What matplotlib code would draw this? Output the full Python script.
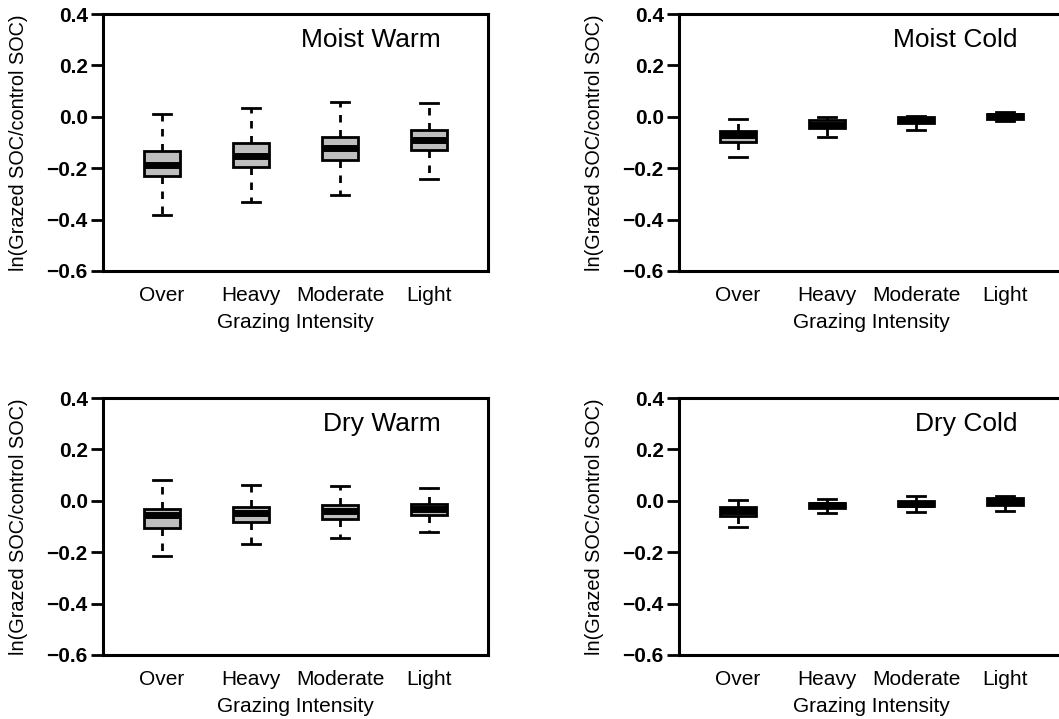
import matplotlib
matplotlib.use("Agg")
import matplotlib.pyplot as plt

plt.rcParams['font.family'] = ['Liberation Sans', 'DejaVu Sans']

intensity = ['Over', 'Heavy', 'Moderate', 'Light']
panels = ['Moist Warm', 'Moist Cold', 'Dry Warm', 'Dry Cold']

# per panel: lower whisker, q1, median, q3, upper whisker (one value per intensity)
moist_warm_lo = [-0.384, -0.332, -0.303, -0.242]
moist_warm_q1 = [-0.231, -0.194, -0.168, -0.130]
moist_warm_med = [-0.186, -0.151, -0.123, -0.090]
moist_warm_q3 = [-0.134, -0.103, -0.077, -0.050]
moist_warm_hi = [0.009, 0.033, 0.057, 0.055]

moist_cold_lo = [-0.156, -0.077, -0.052, -0.018]
moist_cold_q1 = [-0.098, -0.042, -0.024, -0.008]
moist_cold_med = [-0.072, -0.030, -0.012, 0.002]
moist_cold_q3 = [-0.057, -0.013, 0.001, 0.010]
moist_cold_hi = [-0.007, -0.002, 0.005, 0.017]

dry_warm_lo = [-0.216, -0.169, -0.145, -0.120]
dry_warm_q1 = [-0.105, -0.083, -0.069, -0.057]
dry_warm_med = [-0.057, -0.046, -0.039, -0.030]
dry_warm_q3 = [-0.030, -0.023, -0.018, -0.013]
dry_warm_hi = [0.079, 0.062, 0.056, 0.049]

dry_cold_lo = [-0.100, -0.047, -0.045, -0.039]
dry_cold_q1 = [-0.059, -0.029, -0.022, -0.018]
dry_cold_med = [-0.040, -0.018, -0.011, -0.004]
dry_cold_q3 = [-0.025, -0.007, 0.000, 0.010]
dry_cold_hi = [0.004, 0.008, 0.017, 0.020]

data = {
    'Moist Warm': (moist_warm_lo, moist_warm_q1, moist_warm_med, moist_warm_q3, moist_warm_hi),
    'Moist Cold': (moist_cold_lo, moist_cold_q1, moist_cold_med, moist_cold_q3, moist_cold_hi),
    'Dry Warm': (dry_warm_lo, dry_warm_q1, dry_warm_med, dry_warm_q3, dry_warm_hi),
    'Dry Cold': (dry_cold_lo, dry_cold_q1, dry_cold_med, dry_cold_q3, dry_cold_hi),
}

W, H = 1059, 719
fig = plt.figure(figsize=(W / 100, H / 100), dpi=100)

# axes boxes in pixels: left, top, width, height
boxes = {
    'Moist Warm': (103, 14, 385, 257),
    'Moist Cold': (679, 14, 385, 257),
    'Dry Warm': (103, 398, 385, 257),
    'Dry Cold': (679, 398, 385, 257),
}

for name in panels:
    l, t, w, h = boxes[name]
    ax = fig.add_axes([l / W, 1 - (t + h) / H, w / W, h / H])
    lo, q1, med, q3, hi = data[name]
    stats = [dict(whislo=lo[i], q1=q1[i], med=med[i], q3=q3[i], whishi=hi[i], label=intensity[i])
             for i in range(len(intensity))]
    ax.bxp(stats, positions=[1, 2, 3, 4], widths=0.4, capwidths=0.2,
           showfliers=False, patch_artist=True,
           boxprops=dict(facecolor='#bebebe', edgecolor='black', linewidth=2),
           medianprops=dict(color='black', linewidth=5, solid_capstyle='butt'),
           whiskerprops=dict(color='black', linewidth=2, linestyle=(0, (2.7, 2.7))),
           capprops=dict(color='black', linewidth=2))
    ax.set_xlim(0.34, 4.66)
    ax.set_ylim(-0.6, 0.4)
    ax.set_yticks([-0.6, -0.4, -0.2, 0.0, 0.2, 0.4])
    ax.set_yticklabels(['\u22120.6', '\u22120.4', '\u22120.2', '0.0', '0.2', '0.4'],
                       fontsize=15, fontweight='bold')
    ax.set_xticks([1, 2, 3, 4])
    ax.set_xticklabels(intensity, fontsize=15)
    ax.tick_params(axis='y', length=9, width=2, pad=2)
    ax.tick_params(axis='x', length=0, pad=11)
    for s in ax.spines.values():
        s.set_linewidth(2.2)
    ax.set_xlabel('Grazing Intensity', fontsize=15)
    ax.set_ylabel('ln(Grazed SOC/control SOC)', fontsize=14.3)
    ax.xaxis.set_label_coords(0.5, -0.165)
    ax.yaxis.set_label_coords(-0.195, 0.5)
    ax.text(0.878, 0.9, name, transform=ax.transAxes, ha='right', va='center', fontsize=19)

fig.savefig('out.png', dpi=100)
